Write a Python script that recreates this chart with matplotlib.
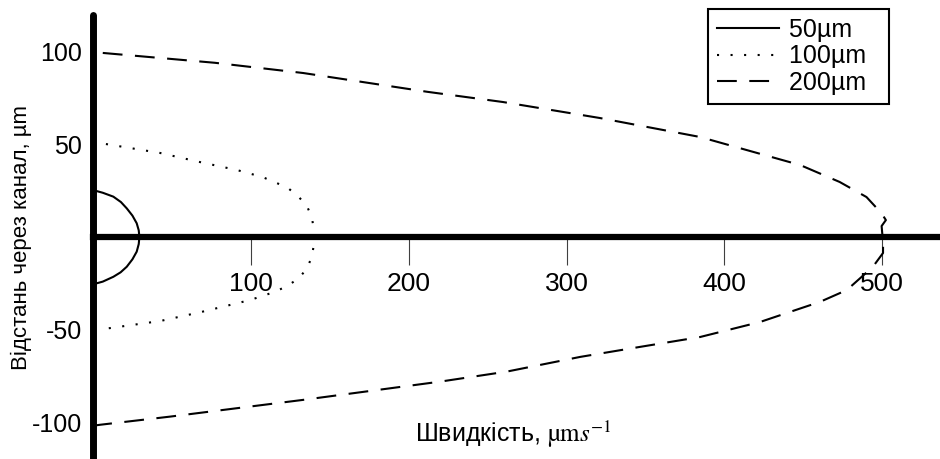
import numpy as np
import matplotlib
matplotlib.use("Agg")
import matplotlib.pyplot as plt

plt.rcParams['font.family'] = ['Liberation Sans', 'DejaVu Sans']
plt.rcParams['mathtext.fontset'] = 'stix'

# channel 50um (solid)
v50 = [0, 6, 12.7, 17.5, 21.2, 24.8, 27.5, 28.8, 29.2, 28.8, 27.5, 24.8, 21.2, 17.3, 12.7, 6, 0]
y50 = [25.2, 23.8, 21.7, 18.8, 15.4, 11.5, 7.4, 3.6, 0, -3.8, -7.9, -12, -16, -19, -21.4, -24, -25.4]

# channel 100um (dotted)
v100 = [8, 42.3, 67.6, 91.1, 107, 115.3, 123.4, 129.7, 135.4, 138.6, 139.9,
        139.9, 138.6, 135.6, 130.2, 123.2, 115.3, 107.3, 99.3, 91.3, 67.6, 42.3, 8]
y100 = [50, 45.2, 40.3, 36.0, 32.3, 29.4, 26.3, 22.0, 16.7, 10.2, 3.2,
        -3.4, -10.2, -16.8, -22.2, -26.2, -29.4, -31.7, -33.9, -35.6, -40.5, -45.2, -49.3]

# channel 200um (dashed)
v200 = [6, 77, 133, 211.6, 259.6, 321, 384.5, 448, 473, 490, 499.6, 502.3, 499.6,
        500.5, 500.5, 494, 477.6, 460.5, 441.5, 422.6, 384.5, 346.5, 308.5, 262,
        219.7, 133, 48.7, 4.2, 0]
y200 = [99, 93.7, 88.2, 78.1, 72.6, 64, 53.8, 38.7, 29.6, 21.5, 12.7, 9.1, 5.9,
        -3, -8.6, -16.1, -28.5, -34.9, -40.3, -45.7, -53.8, -59.1, -64.5, -72.4,
        -77.8, -87.6, -96.6, -101, -101.5]

xticks = [100, 200, 300, 400, 500]
yticks = [-100, -50, 50, 100]

fig = plt.figure(figsize=(9.4, 4.59), dpi=100)
ax = fig.add_axes([93.3/940, 0, 1 - 93.3/940, 1 - 15/459])

l1, = ax.plot(v50, y50, color='black', lw=1.5, label='50µm  ')
l2, = ax.plot(v100, y100, color='black', lw=1.5, ls=(0, (1, 5.5)), label='100µm  ')
l3, = ax.plot(v200, y200, color='black', lw=1.5, ls=(0, (9.5, 6)), label='200µm  ')

ax.set_xlim(0, 536.6)
ax.set_ylim(-119.4, 119.4)

ax.spines['left'].set_position(('data', 0))
ax.spines['bottom'].set_position(('data', 0))
ax.spines['right'].set_visible(False)
ax.spines['top'].set_visible(False)
ax.spines['left'].set_linewidth(5)
ax.spines['bottom'].set_linewidth(4.5)
ax.spines['left'].set_capstyle('round')

ax.set_xticks(xticks)
ax.set_xticklabels([str(t) for t in xticks])
ax.set_yticks(yticks)
ax.set_yticklabels([str(t) for t in yticks])
ax.tick_params(axis='x', direction='out', length=20, width=0.8, color='#404040',
               pad=5, labelsize=19)
ax.tick_params(axis='y', length=0, pad=8, labelsize=18)

fig.text(513/940, 1 - 434/459, 'Швидкість, ' + r'$\mathrm{µm}s^{-1}$',
         ha='center', va='center', fontsize=18)
fig.text(21/940, 1 - 237/459, 'Відстань через канал, µm', rotation=90,
         ha='center', va='center', fontsize=16)

leg = fig.legend(handles=[l1, l2, l3], loc='upper right',
                 bbox_to_anchor=(889/940, 1 - 9/459), fontsize=18,
                 fancybox=False, framealpha=1, edgecolor='black',
                 handlelength=2.5, labelspacing=0.1, borderpad=0.35,
                 handletextpad=0.4, borderaxespad=0)
leg.get_frame().set_linewidth(1.5)

plt.savefig('out.png', dpi=100)
